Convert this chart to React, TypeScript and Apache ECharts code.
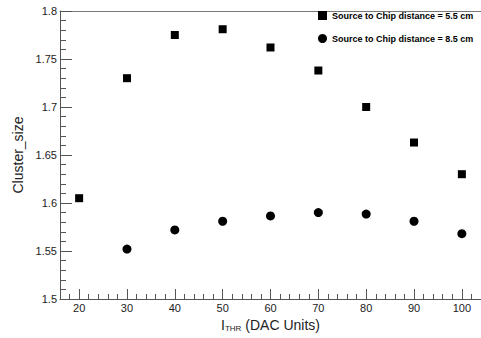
import React, { useEffect, useRef } from "react";
import * as echarts from "echarts";

const xValues = [20, 30, 40, 50, 60, 70, 80, 90, 100];
const size55cm = [1.605, 1.73, 1.775, 1.781, 1.762, 1.738, 1.7, 1.663, 1.63];
const xValues85 = [30, 40, 50, 60, 70, 80, 90, 100];
const size85cm = [1.552, 1.572, 1.581, 1.5865, 1.59, 1.5885, 1.581, 1.568];

const xMajorTicks = [20, 30, 40, 50, 60, 70, 80, 90, 100];
const yMajorTicks = [1.5, 1.55, 1.6, 1.65, 1.7, 1.75, 1.8];
const seriesNames = [
  "Source to Chip distance = 5.5 cm",
  "Source to Chip distance = 8.5 cm",
];

const FONT = "Liberation Sans, Arial, Helvetica, sans-serif";
const AXIS_COLOR = "#555";

function minorList(start: number, end: number, step: number, majors: number[]) {
  const out: number[] = [];
  const n = Math.round((end - start) / step);
  for (let i = 0; i <= n; i++) {
    const v = +(start + i * step).toFixed(4);
    if (!majors.some((m) => Math.abs(m - v) < 1e-6)) out.push(v);
  }
  return out;
}

export default function App() {
  const ref = useRef<HTMLDivElement>(null);
  useEffect(() => {
    if (!ref.current) return;
    const chart = echarts.init(ref.current, undefined, { renderer: "svg" });
    const xMinor = minorList(18, 102, 2, xMajorTicks);
    const yMinor = minorList(1.51, 1.79, 0.01, yMajorTicks);
    const xMin = 16;
    const xMax = 104;
    const yMin = 1.5;
    const yMax = 1.8;
    chart.setOption({
      animation: false,
      backgroundColor: "#fff",
      grid: { left: 60, top: 11, bottom: 39, right: -4, containLabel: false },
      legend: {
        orient: "vertical",
        left: 313,
        top: 6,
        itemWidth: 9,
        itemHeight: 9,
        itemGap: 14,
        data: [
          { name: seriesNames[0], icon: "rect" },
          { name: seriesNames[1], icon: "circle" },
        ],
        textStyle: { fontSize: 9, fontWeight: "bold", fontFamily: FONT, color: "#000" },
      },
      xAxis: [
        {
          type: "value",
          min: xMin,
          max: xMax,
          position: "bottom",
          axisLine: { show: true, lineStyle: { color: AXIS_COLOR, width: 1 } },
          axisTick: {
            show: true,
            inside: true,
            length: 10,
            customValues: xMajorTicks,
            lineStyle: { color: AXIS_COLOR },
          },
          axisLabel: {
            show: true,
            customValues: xMajorTicks,
            fontSize: 11,
            fontFamily: FONT,
            color: "#222",
            margin: 3,
          },
          splitLine: { show: false },
          name: "{i|I}{s|THR}{t| (DAC Units)}",
          nameLocation: "middle",
          nameGap: 16,
          nameTextStyle: {
            rich: {
              i: { fontSize: 14, fontFamily: FONT, color: "#222", lineHeight: 16 },
              s: { fontSize: 8, fontFamily: FONT, color: "#222", lineHeight: 8, verticalAlign: "bottom" },
              t: { fontSize: 14, fontFamily: FONT, color: "#222", lineHeight: 16 },
            },
          },
        },
        {
          type: "value",
          min: xMin,
          max: xMax,
          position: "bottom",
          axisLine: { show: false },
          axisTick: {
            show: true,
            inside: true,
            length: 5,
            customValues: xMinor,
            lineStyle: { color: AXIS_COLOR },
          },
          axisLabel: { show: false },
          splitLine: { show: false },
        },
        {
          type: "value",
          min: xMin,
          max: xMax,
          position: "top",
          axisLine: { show: true, lineStyle: { color: "#777", width: 1 } },
          axisTick: { show: false },
          axisLabel: { show: false },
          splitLine: { show: false },
        },
      ],
      yAxis: [
        {
          type: "value",
          min: yMin,
          max: yMax,
          position: "left",
          axisLine: { show: true, lineStyle: { color: AXIS_COLOR, width: 1 } },
          axisTick: {
            show: true,
            inside: true,
            length: 12,
            customValues: yMajorTicks,
            lineStyle: { color: AXIS_COLOR },
          },
          axisLabel: {
            show: true,
            customValues: yMajorTicks,
            fontSize: 11,
            fontFamily: FONT,
            color: "#222",
            margin: 3,
            formatter: (v: number) => String(+(+v).toFixed(2)),
          },
          splitLine: { show: false },
          name: "Cluster_size",
          nameLocation: "middle",
          nameGap: 33,
          nameTextStyle: { fontSize: 14, fontFamily: FONT, color: "#222" },
        },
        {
          type: "value",
          min: yMin,
          max: yMax,
          position: "left",
          axisLine: { show: false },
          axisTick: {
            show: true,
            inside: true,
            length: 6,
            customValues: yMinor,
            lineStyle: { color: AXIS_COLOR },
          },
          axisLabel: { show: false },
          splitLine: { show: false },
        },
      ],
      series: [
        {
          name: seriesNames[0],
          type: "scatter",
          xAxisIndex: 0,
          yAxisIndex: 0,
          symbol: "rect",
          symbolSize: 8,
          itemStyle: { color: "#000", opacity: 1 },
          data: xValues.map((x, i) => [x, size55cm[i]]),
        },
        {
          name: seriesNames[1],
          type: "scatter",
          xAxisIndex: 0,
          yAxisIndex: 0,
          symbol: "circle",
          symbolSize: 9,
          itemStyle: { color: "#000", opacity: 1 },
          data: xValues85.map((x, i) => [x, size85cm[i]]),
        },
      ],
    });
    return () => chart.dispose();
  }, []);
  return (
    <div
      ref={ref}
      style={{ position: "fixed", left: 0, top: 0, width: 481, height: 338, background: "#fff" }}
    />
  );
}
